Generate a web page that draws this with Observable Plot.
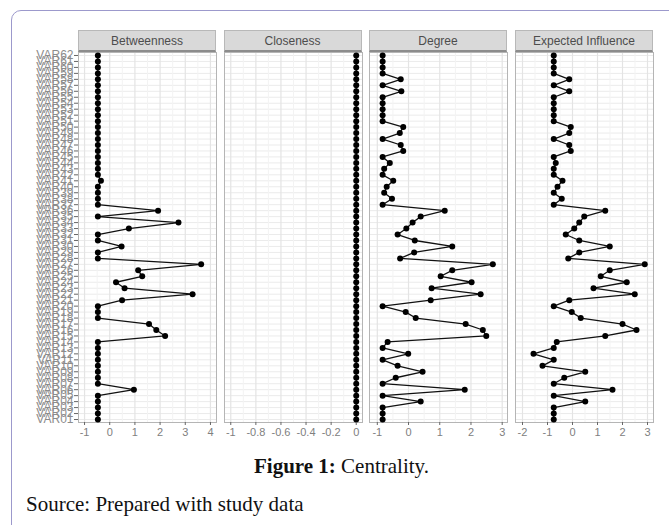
<!DOCTYPE html>
<html>
<head>
<meta charset="utf-8">
<script src="https://cdn.jsdelivr.net/npm/d3@7"></script>
<script src="https://cdn.jsdelivr.net/npm/@observablehq/plot@0.6"></script>
<style>
  html, body { margin: 0; padding: 0; background: #fff; }
  #wrap { position: relative; width: 669px; height: 525px; overflow: hidden; background: #fff; }
  .card { position: absolute; left: 11px; top: 10px; width: 700px; height: 600px;
          border: 1.5px solid #9c99cc; border-radius: 10px; box-sizing: border-box; }
  .strip { position: absolute; top: 30px; width: 138px; height: 22px; box-sizing: border-box;
           background: #d9d9d9; border: 1px solid #b8b8b8; border-bottom: 2px solid #8c8c8c;
           font: 12px "Liberation Sans", Arial, sans-serif; color: #4d4d4d;
           text-align: center; line-height: 20px; }
  .panel { position: absolute; top: 52px; }
  .cap { position: absolute; font-family: "Liberation Serif", "Times New Roman", serif;
         font-size: 21px; line-height: 21px; color: #111; white-space: nowrap; }
</style>
</head>
<body>
<div id="wrap">
  <div class="card"></div>
</div>
<script>
// ---------- data ----------
const variables = ["VAR01","VAR02","VAR03","VAR04","VAR05","VAR06","VAR07","VAR08","VAR09","VAR10",
  "VAR11","VAR12","VAR13","VAR14","VAR15","VAR16","VAR17","VAR18","VAR19","VAR20",
  "VAR21","VAR22","VAR23","VAR24","VAR25","VAR26","VAR27","VAR28","VAR29","VAR30",
  "VAR31","VAR32","VAR33","VAR34","VAR35","VAR36","VAR37","VAR38","VAR39","VAR40",
  "VAR41","VAR42","VAR43","VAR44","VAR45","VAR46","VAR47","VAR48","VAR49","VAR50",
  "VAR51","VAR52","VAR53","VAR54","VAR55","VAR56","VAR57","VAR58","VAR59","VAR60",
  "VAR61","VAR62"];

const measures = ["Betweenness", "Closeness", "Degree", "Expected Influence"];

const betweenness = [-0.47,-0.47,-0.47,-0.47,-0.47,0.96,-0.47,-0.47,-0.47,-0.47,
  -0.47,-0.47,-0.47,-0.47,2.20,1.85,1.56,-0.47,-0.47,-0.47,
  0.49,3.29,0.59,0.25,1.29,1.13,3.63,-0.47,-0.47,0.47,
  -0.47,-0.47,0.76,2.73,-0.47,1.92,-0.47,-0.47,-0.47,-0.47,
  -0.35,-0.47,-0.47,-0.47,-0.47,-0.47,-0.47,-0.47,-0.47,-0.47,
  -0.47,-0.47,-0.47,-0.47,-0.47,-0.47,-0.47,-0.47,-0.47,-0.47,
  -0.47,-0.47];

const closeness = [0,0,0,0,0,0,0,0,0,0, 0,0,0,0,0,0,0,0,0,0,
  0,0,0,0,0,0,0,0,0,0, 0,0,0,0,0,0,0,0,0,0,
  0,0,0,0,0,0,0,0,0,0, 0,0,0,0,0,0,0,0,0,0, 0,0];

const degree = [-0.83,-0.83,-0.83,0.39,-0.83,1.80,-0.83,-0.41,0.45,-0.35,
  -0.83,-0.01,-0.83,-0.67,2.49,2.38,1.83,0.23,-0.09,-0.83,
  0.71,2.31,0.74,2.02,1.03,1.40,2.70,-0.27,0.18,1.40,
  0.20,-0.35,-0.07,0.13,0.39,1.16,-0.83,-0.53,-0.78,-0.70,
  -0.49,-0.83,-0.78,-0.60,-0.83,-0.17,-0.25,-0.83,-0.28,-0.17,
  -0.83,-0.83,-0.83,-0.83,-0.83,-0.23,-0.83,-0.25,-0.83,-0.83,
  -0.83,-0.83];

const expectedInfluence = [-0.75,-0.75,-0.75,0.51,-0.75,1.60,-0.75,-0.33,0.51,-1.20,
  -0.75,-1.56,-0.75,-0.63,1.31,2.56,2.00,0.33,-0.03,-0.75,
  -0.13,2.49,0.84,2.17,1.13,1.49,2.89,-0.17,0.27,1.49,
  0.27,-0.27,0.07,0.27,0.47,1.31,-0.75,-0.43,-0.75,-0.60,
  -0.40,-0.75,-0.75,-0.67,-0.75,-0.07,-0.13,-0.75,-0.13,-0.07,
  -0.75,-0.75,-0.75,-0.75,-0.75,-0.13,-0.75,-0.13,-0.75,-0.75,
  -0.75,-0.75];

const xTicks = [
  [-1, 0, 1, 2, 3, 4],
  [-1, -0.8, -0.6, -0.4, -0.2, 0],
  [-1, 0, 1, 2, 3],
  [-2, -1, 0, 1, 2, 3]
];
const xMinor = [
  [-0.5, 0.5, 1.5, 2.5, 3.5],
  [-0.9, -0.7, -0.5, -0.3, -0.1],
  [-0.5, 0.5, 1.5, 2.5],
  [-1.5, -0.5, 0.5, 1.5, 2.5]
];
const xDomains = [[-1.24, 4.24], [-1.05, 0.05], [-1.25, 3.17], [-2.28, 3.24]];
const caption = ["Figure 1:", " Centrality."];
const source = "Source: Prepared with study data";

// ---------- layout ----------
const wrap = document.getElementById("wrap");
const series = [betweenness, closeness, degree, expectedInfluence];
const panelLefts = [78, 223.5, 369, 515];
const panelW = 138, panelH = 370;

measures.forEach((m, k) => {
  const strip = document.createElement("div");
  strip.className = "strip";
  strip.style.left = panelLefts[k] + "px";
  strip.textContent = m;
  wrap.appendChild(strip);

  const data = variables.map((v, i) => ({variable: v, value: series[k][i]}));
  const ml = k === 0 ? 78 : 4;
  const chart = Plot.plot({
    width: ml + panelW + 6,
    height: panelH + 28,
    marginLeft: ml,
    marginRight: 6,
    marginTop: 0,
    marginBottom: 28,
    style: {fontFamily: "'Liberation Sans', Arial, sans-serif", background: "transparent", overflow: "visible"},
    x: {domain: xDomains[k], label: null},
    y: {type: "point", domain: variables.slice().reverse(), padding: 0.5, label: null, axis: null},
    marks: [
      Plot.gridY({stroke: "#ebebeb", strokeOpacity: 1, strokeWidth: 1}),
      Plot.gridX(xMinor[k], {stroke: "#f3f3f3", strokeOpacity: 1, strokeWidth: 1}),
      Plot.gridX(xTicks[k], {stroke: "#e4e4e4", strokeOpacity: 1, strokeWidth: 1.2}),
      Plot.frame({stroke: "#b5b5b5", strokeWidth: 1}),
      Plot.line(data, {x: "value", y: "variable", stroke: "#111", strokeWidth: 1.3}),
      Plot.dot(data, {x: "value", y: "variable", r: 3, fill: "#000", stroke: "none"}),
      Plot.axisX(xTicks[k], {tickSize: 3, tickPadding: 3, fontSize: 11, color: "#808080",
        stroke: "#666", tickFormat: d => String(d), label: null}),
      k === 0 ? Plot.axisY({tickSize: 4, tickPadding: 1, fontSize: 12, color: "#8c8c8c",
        stroke: "#666", label: null}) : null
    ]
  });
  chart.classList.add("panel");
  chart.style.position = "absolute";
  chart.style.left = (panelLefts[k] - ml) + "px";
  chart.style.top = "52px";
  wrap.appendChild(chart);
});

const cap = document.createElement("div");
cap.className = "cap";
cap.style.left = "254px";
cap.style.top = "456px";
const b = document.createElement("b");
b.textContent = caption[0];
cap.appendChild(b);
cap.appendChild(document.createTextNode(caption[1]));
wrap.appendChild(cap);

const src = document.createElement("div");
src.className = "cap";
src.style.left = "26px";
src.style.top = "494px";
src.textContent = source;
wrap.appendChild(src);
</script>
</body>
</html>
